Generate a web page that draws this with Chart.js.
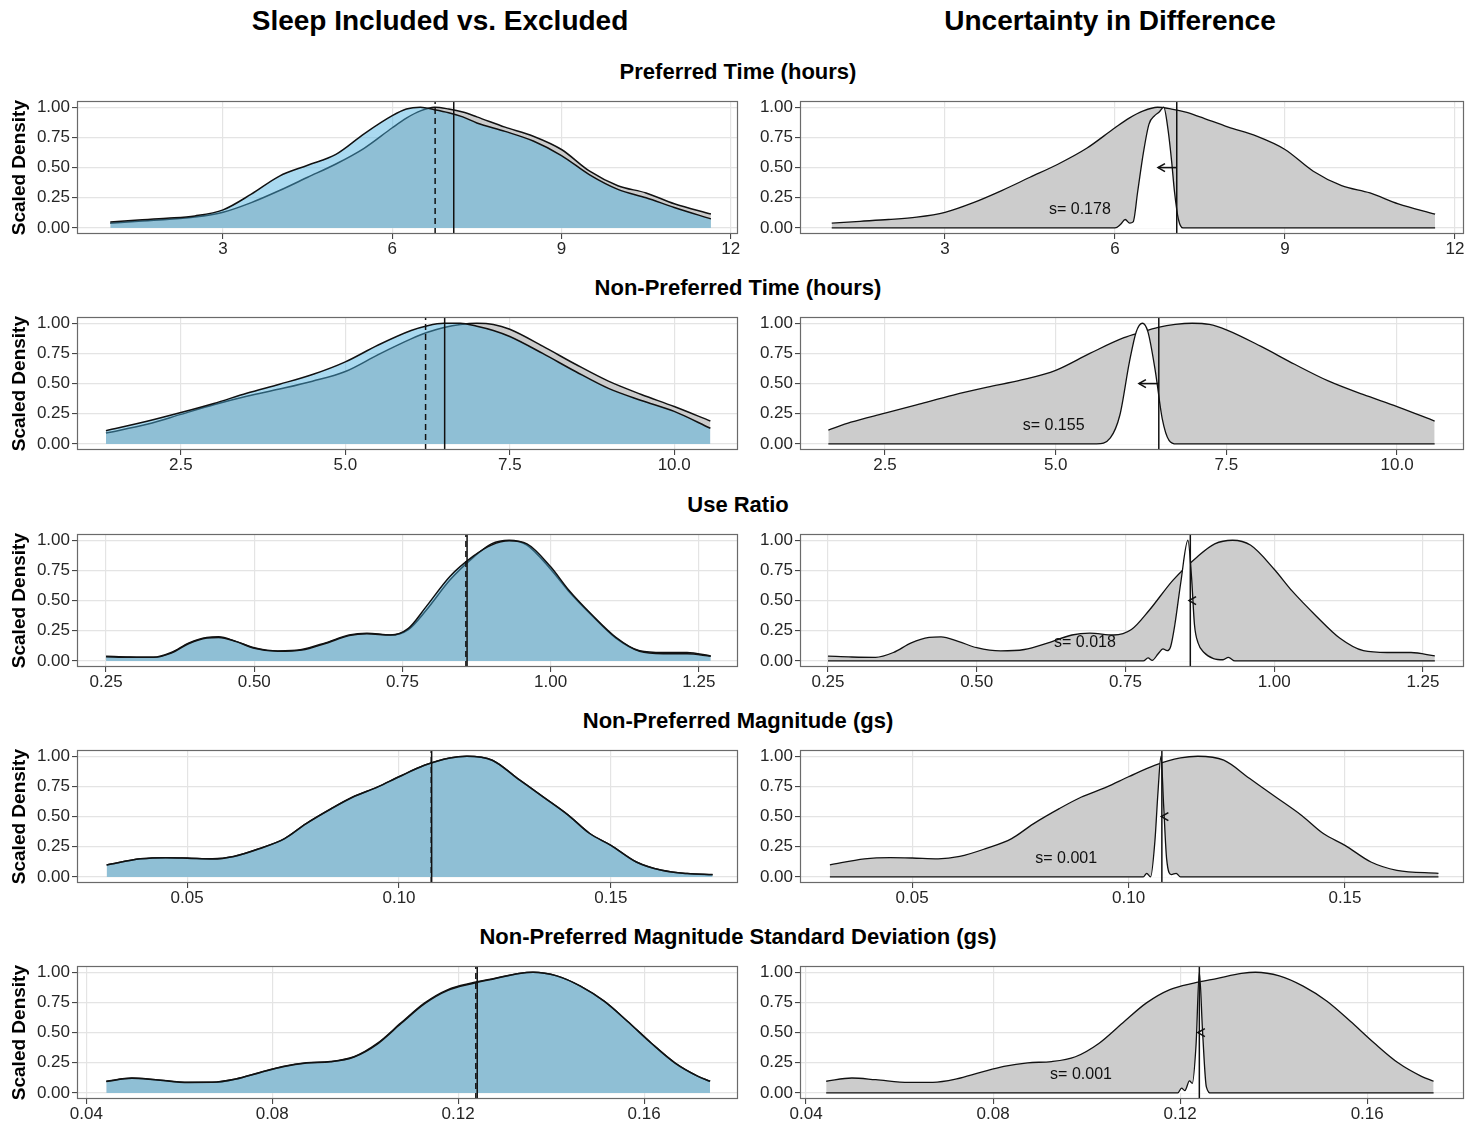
<!DOCTYPE html>
<html>
<head>
<meta charset="utf-8">
<script src="https://cdn.jsdelivr.net/npm/chart.js@4.4.0/dist/chart.umd.min.js"></script>
<style>
  body { margin: 0; background: #fff; width: 1476px; height: 1122px; position: relative; overflow: hidden;
         font-family: "Liberation Sans", Arial, sans-serif; }
  .title { position: absolute; transform: translate(-50%, -50%); font-weight: bold; white-space: nowrap; color: #000; }
  .col { font-size: 28px; }
  .row { font-size: 22px; }
  canvas { position: absolute; }
</style>
</head>
<body>
<script>
// Column and row titles
const colTitles = ['Sleep Included vs. Excluded', 'Uncertainty in Difference'];
const rowTitles = ['Preferred Time (hours)', 'Non-Preferred Time (hours)', 'Use Ratio',
                   'Non-Preferred Magnitude (gs)', 'Non-Preferred Magnitude Standard Deviation (gs)'];

// y axis ticks (scaled density)
const yTicks = [0, 0.25, 0.5, 0.75, 1];

// Row 1: Preferred Time
const ptX     = [1.0, 1.5, 2.0, 2.5, 3.0, 3.5, 4.0, 4.5, 5.0, 5.5, 6.0, 6.25, 6.5, 6.75, 7.0, 7.25, 7.5, 8.0, 8.5, 9.0, 9.5, 10.0, 10.5, 11.0, 11.65];
const ptIncl  = [0.04, 0.055, 0.07, 0.09, 0.13, 0.21, 0.31, 0.42, 0.53, 0.66, 0.83, 0.91, 0.97, 1.0, 0.985, 0.96, 0.92, 0.835, 0.76, 0.65, 0.47, 0.35, 0.29, 0.20, 0.115];
const ptExcl  = [0.05, 0.065, 0.08, 0.10, 0.15, 0.28, 0.43, 0.52, 0.61, 0.78, 0.93, 0.985, 1.0, 0.98, 0.955, 0.92, 0.87, 0.80, 0.72, 0.60, 0.44, 0.32, 0.25, 0.17, 0.075];
const ptDiffX = [1.0, 6.0, 6.1, 6.18, 6.26, 6.32, 6.4, 6.5, 6.6, 6.7, 6.78, 6.86, 6.94, 7.0, 7.05, 7.12, 7.2, 11.65];
const ptDiffY = [0, 0, 0.03, 0.07, 0.04, 0.05, 0.3, 0.62, 0.86, 0.93, 0.96, 1.0, 0.8, 0.55, 0.3, 0.07, 0, 0];
const ptTicks = [3, 6, 9, 12];

// Row 2: Non-Preferred Time
const nptX     = [1.36, 2.0, 2.5, 3.0, 3.5, 4.0, 4.5, 5.0, 5.5, 6.0, 6.25, 6.5, 6.75, 7.0, 7.25, 7.5, 8.0, 8.5, 9.0, 9.5, 10.0, 10.55];
const nptIncl  = [0.09, 0.165, 0.245, 0.325, 0.395, 0.455, 0.52, 0.60, 0.74, 0.87, 0.925, 0.965, 0.99, 1.0, 0.99, 0.95, 0.81, 0.66, 0.52, 0.41, 0.31, 0.19];
const nptExcl  = [0.11, 0.19, 0.26, 0.335, 0.42, 0.495, 0.575, 0.68, 0.82, 0.94, 0.98, 1.0, 1.0, 0.975, 0.94, 0.89, 0.75, 0.60, 0.46, 0.36, 0.27, 0.13];
const nptRX    = [1.67, 2.0, 2.5, 3.0, 3.5, 4.0, 4.5, 5.0, 5.5, 6.0, 6.25, 6.5, 6.75, 7.0, 7.25, 7.5, 8.0, 8.5, 9.0, 9.5, 10.0, 10.55];
const nptRIncl = [0.115, 0.18, 0.255, 0.33, 0.405, 0.47, 0.53, 0.61, 0.75, 0.88, 0.925, 0.965, 0.99, 1.0, 0.99, 0.945, 0.81, 0.66, 0.52, 0.41, 0.31, 0.19];
const nptDiffX = [1.67, 5.6, 5.8, 5.94, 6.08, 6.18, 6.27, 6.35, 6.46, 6.56, 6.66, 6.77, 10.55];
const nptDiffY = [0, 0, 0.05, 0.24, 0.68, 0.93, 1.0, 0.93, 0.6, 0.21, 0.03, 0, 0];
const nptTicks = [2.5, 5.0, 7.5, 10.0];

// Row 3: Use Ratio
const urX     = [0.25, 0.29, 0.33, 0.36, 0.39, 0.42, 0.44, 0.47, 0.50, 0.54, 0.58, 0.62, 0.66, 0.69, 0.73, 0.76, 0.79, 0.83, 0.87, 0.90, 0.93, 0.96, 1.0, 1.03, 1.07, 1.11, 1.15, 1.19, 1.23, 1.27];
const urIncl  = [0.04, 0.033, 0.03, 0.07, 0.15, 0.195, 0.20, 0.16, 0.11, 0.083, 0.095, 0.15, 0.215, 0.23, 0.215, 0.26, 0.42, 0.67, 0.86, 0.97, 1.0, 0.96, 0.76, 0.58, 0.375, 0.19, 0.085, 0.07, 0.07, 0.042];
const urExcl  = [0.035, 0.03, 0.03, 0.065, 0.145, 0.19, 0.195, 0.16, 0.105, 0.08, 0.09, 0.145, 0.21, 0.225, 0.215, 0.27, 0.45, 0.70, 0.87, 0.96, 0.995, 0.97, 0.78, 0.59, 0.38, 0.195, 0.08, 0.06, 0.06, 0.04];
const urDiffX = [0.25, 0.78, 0.788, 0.795, 0.805, 0.813, 0.82, 0.826, 0.833, 0.843, 0.855, 0.861, 0.866, 0.872, 0.882, 0.898, 0.914, 0.923, 0.934, 1.27];
const urDiffY = [0, 0, 0.025, 0.005, 0.06, 0.1, 0.085, 0.12, 0.3, 0.65, 1.0, 0.7, 0.3, 0.15, 0.07, 0.02, 0.01, 0.03, 0, 0];
const urTicks = [0.25, 0.5, 0.75, 1.0, 1.25];

// Row 4: Non-Preferred Magnitude
const npmX     = [0.031, 0.039, 0.045, 0.05, 0.056, 0.061, 0.067, 0.073, 0.078, 0.084, 0.089, 0.095, 0.1, 0.106, 0.112, 0.116, 0.122, 0.128, 0.134, 0.14, 0.145, 0.15, 0.156, 0.162, 0.168, 0.174];
const npmIncl  = [0.10, 0.15, 0.16, 0.157, 0.15, 0.17, 0.235, 0.318, 0.44, 0.566, 0.66, 0.746, 0.83, 0.925, 0.986, 1.0, 0.967, 0.815, 0.663, 0.51, 0.36, 0.262, 0.124, 0.055, 0.028, 0.019];
const npmExcl  = [0.10, 0.15, 0.16, 0.156, 0.149, 0.17, 0.234, 0.318, 0.44, 0.565, 0.66, 0.746, 0.83, 0.925, 0.986, 1.0, 0.967, 0.815, 0.663, 0.51, 0.36, 0.262, 0.124, 0.055, 0.028, 0.02];
const npmRX    = [0.031, 0.039, 0.045, 0.05, 0.056, 0.061, 0.067, 0.073, 0.078, 0.084, 0.089, 0.095, 0.1, 0.106, 0.112, 0.116, 0.122, 0.128, 0.134, 0.14, 0.145, 0.15, 0.156, 0.162, 0.1716];
const npmRIncl = [0.10, 0.15, 0.16, 0.157, 0.15, 0.17, 0.235, 0.318, 0.44, 0.566, 0.66, 0.746, 0.83, 0.925, 0.986, 1.0, 0.967, 0.815, 0.663, 0.51, 0.36, 0.262, 0.124, 0.055, 0.03];
const npmDiffX = [0.031, 0.1034, 0.1042, 0.1051, 0.1061, 0.1068, 0.1075, 0.1081, 0.1088, 0.1099, 0.111, 0.112, 0.1716];
const npmDiffY = [0, 0, 0.03, 0, 0.3, 0.7, 1.0, 0.6, 0.15, 0.02, 0.03, 0, 0];
const npmTicks = [0.05, 0.10, 0.15];

// Row 5: Non-Preferred Magnitude SD
const npsdX     = [0.0443, 0.0498, 0.0549, 0.062, 0.0671, 0.0722, 0.0773, 0.0823, 0.0874, 0.0925, 0.0976, 0.1026, 0.1077, 0.1128, 0.1178, 0.1229, 0.128, 0.1331, 0.1361, 0.1412, 0.1463, 0.1514, 0.1564, 0.1615, 0.1666, 0.1716, 0.1742];
const npsdIncl  = [0.097, 0.124, 0.11, 0.088, 0.088, 0.116, 0.17, 0.22, 0.25, 0.26, 0.30, 0.41, 0.58, 0.746, 0.856, 0.91, 0.95, 0.99, 1.0, 0.97, 0.885, 0.76, 0.594, 0.414, 0.25, 0.138, 0.097];
const npsdExcl  = [0.095, 0.122, 0.109, 0.087, 0.088, 0.115, 0.168, 0.218, 0.248, 0.258, 0.298, 0.405, 0.575, 0.74, 0.85, 0.905, 0.948, 0.99, 1.0, 0.97, 0.885, 0.76, 0.594, 0.414, 0.25, 0.138, 0.097];
const npsdDiffX = [0.0443, 0.1195, 0.1203, 0.121, 0.122, 0.1226, 0.1234, 0.1241, 0.1248, 0.1256, 0.1266, 0.1742];
const npsdDiffY = [0, 0, 0.04, 0.02, 0.1, 0.08, 0.4, 1.0, 0.5, 0.05, 0, 0];
const npsdTicks = [0.04, 0.08, 0.12, 0.16];

// Medians: dashed = sleep excluded, solid = sleep included
const dashedX = [6.76, 6.22, 0.857, 0.1076, 0.1238];
const solidX  = [7.09, 6.51, 0.859, 0.1077, 0.1241];

// Uncertainty notes
const sLabels = ['s= 0.178', 's= 0.155', 's= 0.018', 's= 0.001', 's= 0.001'];
const noteX   = [5.38, 4.97, 0.682, 0.0856, 0.0988];

// Axis ranges (left panel, right panel)
const rangeL = [[0.41, 12.13], [0.92, 10.97], [0.201, 1.316], [0.024, 0.180], [0.038, 0.1802]];
const rangeR = [[0.44, 12.16], [1.255, 10.98], [0.203, 1.319], [0.0241, 0.1775], [0.0387, 0.1807]];
const tickDigits = [0, 1, 2, 2, 2];

const rows = [
    { xL: ptX, incl: ptIncl, excl: ptExcl, xR: ptX, inclR: ptIncl, dX: ptDiffX, dY: ptDiffY, ticks: ptTicks },
    { xL: nptX, incl: nptIncl, excl: nptExcl, xR: nptRX, inclR: nptRIncl, dX: nptDiffX, dY: nptDiffY, ticks: nptTicks },
    { xL: urX, incl: urIncl, excl: urExcl, xR: urX, inclR: urIncl, dX: urDiffX, dY: urDiffY, ticks: urTicks },
    { xL: npmX, incl: npmIncl, excl: npmExcl, xR: npmRX, inclR: npmRIncl, dX: npmDiffX, dY: npmDiffY, ticks: npmTicks },
    { xL: npsdX, incl: npsdIncl, excl: npsdExcl, xR: npsdX, inclR: npsdIncl, dX: npsdDiffX, dY: npsdDiffY, ticks: npsdTicks }
];

// Layout
const plotTop = [101, 317, 534, 750, 966];
const plotH = 133;
const padTop = 12;   // larger than half a tick label, so it wins in the layout
const xAxisH = 30;
const FONT = "'Liberation Sans', Arial, sans-serif";
const TEXT = '#262626';
Chart.defaults.font.family = FONT;

function addTitle(text, cls, x, y) {
    const d = document.createElement('div');
    d.className = 'title ' + cls;
    d.textContent = text;
    d.style.left = x + 'px';
    d.style.top = y + 'px';
    document.body.appendChild(d);
}

addTitle(colTitles[0], 'col', 440, 21);
addTitle(colTitles[1], 'col', 1110, 21);
rowTitles.forEach((t, i) => addTitle(t, 'row', 738, plotTop[i] - 29));

const toPts = (xs, ys) => xs.map((x, i) => ({ x: x, y: ys[i] }));
const vline = v => [{ x: v, y: -0.05 }, { x: v, y: 1.05 }];

// Panel border, arrow and note text
const panelDecor = {
    id: 'panelDecor',
    afterDatasetsDraw(chart, args, opts) {
        const { ctx, chartArea: a } = chart;
        const xs = chart.scales.x, ys = chart.scales.y;
        ctx.save();
        if (opts.arrow) {
            const x0 = xs.getPixelForValue(opts.arrow.from);
            const x1 = xs.getPixelForValue(opts.arrow.to);
            const yy = ys.getPixelForValue(0.5);
            const dir = x1 < x0 ? -1 : 1;
            const L = 8, ang = Math.PI / 6;
            ctx.strokeStyle = '#111';
            ctx.lineWidth = 1.6;
            ctx.beginPath();
            ctx.moveTo(x0, yy);
            ctx.lineTo(x1, yy);
            ctx.stroke();
            ctx.beginPath();
            ctx.moveTo(x1 - dir * L * Math.cos(ang), yy - L * Math.sin(ang));
            ctx.lineTo(x1, yy);
            ctx.lineTo(x1 - dir * L * Math.cos(ang), yy + L * Math.sin(ang));
            ctx.stroke();
        }
        if (opts.note) {
            ctx.fillStyle = '#111';
            ctx.font = '16px ' + FONT;
            ctx.textAlign = 'center';
            ctx.textBaseline = 'middle';
            ctx.fillText(opts.note.text, xs.getPixelForValue(opts.note.x), ys.getPixelForValue(opts.note.y));
        }
        ctx.strokeStyle = '#6a6a6a';
        ctx.lineWidth = 1.2;
        ctx.strokeRect(Math.round(a.left) + 0.5, Math.round(a.top) + 0.5, Math.round(a.width) - 1, Math.round(a.height) - 1);
        ctx.restore();
    }
};

function makeScales(range, xt, digits, isLeft) {
    const grid = { color: '#e4e4e4', lineWidth: 1.2, tickLength: 5, tickColor: '#333', tickWidth: 1 };
    return {
        x: {
            type: 'linear', min: range[0], max: range[1],
            afterBuildTicks: s => { s.ticks = xt.map(v => ({ value: v })); },
            afterFit: s => { s.height = xAxisH; },
            ticks: { callback: v => v.toFixed(digits), color: TEXT, font: { size: 17 }, padding: 0, maxRotation: 0, autoSkip: false },
            grid: grid,
            border: { display: false }
        },
        y: {
            type: 'linear', min: -0.05, max: 1.05,
            afterBuildTicks: s => { s.ticks = yTicks.map(v => ({ value: v })); },
            afterFit: s => { s.width = isLeft ? 77 : 50; },
            ticks: { callback: v => v.toFixed(2), color: TEXT, font: { size: 17 }, padding: 2 },
            grid: grid,
            border: { display: false },
            title: {
                display: isLeft, text: 'Scaled Density', color: '#000',
                font: { size: 19, weight: 'bold' }, padding: { top: 8, bottom: 0 }
            }
        }
    };
}

function makeCanvas(left, top, width) {
    const c = document.createElement('canvas');
    c.width = width;
    c.height = padTop + plotH + xAxisH;
    c.style.left = left + 'px';
    c.style.top = top + 'px';
    c.style.width = width + 'px';
    c.style.height = c.height + 'px';
    document.body.appendChild(c);
    return c;
}

const lineBase = { pointRadius: 0, borderColor: '#111', cubicInterpolationMode: 'monotone' };

rows.forEach((r, i) => {
    const top = plotTop[i] - padTop;

    // Left: sleep included (grey) vs excluded (blue)
    new Chart(makeCanvas(0, top, 748), {
        type: 'line',
        data: {
            datasets: [
                { ...lineBase, label: 'Included', data: toPts(r.xL, r.incl), fill: 'origin', backgroundColor: '#cccccc', borderWidth: 1.5, order: 4 },
                { ...lineBase, label: 'Excluded', data: toPts(r.xL, r.excl), fill: 'origin', backgroundColor: 'rgba(74,176,223,0.47)', borderWidth: 1.5, order: 3 },
                { label: 'Excluded median', data: vline(dashedX[i]), pointRadius: 0, borderColor: '#111', borderWidth: 1.5, borderDash: [6, 4], fill: false, order: 2 },
                { label: 'Included median', data: vline(solidX[i]), pointRadius: 0, borderColor: '#111', borderWidth: 1.5, fill: false, order: 1 }
            ]
        },
        options: {
            responsive: false, animation: false, events: [],
            layout: { padding: { top: padTop, right: 10, left: 0, bottom: 0 } },
            scales: makeScales(rangeL[i], r.ticks, tickDigits[i], true),
            plugins: { legend: { display: false }, tooltip: { enabled: false }, panelDecor: {} }
        },
        plugins: [panelDecor]
    });

    // Right: uncertainty in difference
    new Chart(makeCanvas(750, top, 726), {
        type: 'line',
        data: {
            datasets: [
                { ...lineBase, label: 'Included', data: toPts(r.xR, r.inclR), fill: 'origin', backgroundColor: '#cccccc', borderWidth: 1.3, order: 3 },
                { ...lineBase, label: 'Difference', data: toPts(r.dX, r.dY), fill: 'origin', backgroundColor: '#ffffff', borderWidth: 1.3, order: 2 },
                { label: 'Included median', data: vline(solidX[i]), pointRadius: 0, borderColor: '#111', borderWidth: 1.5, fill: false, order: 1 }
            ]
        },
        options: {
            responsive: false, animation: false, events: [],
            layout: { padding: { top: padTop, right: 12, left: 0, bottom: 0 } },
            scales: makeScales(rangeR[i], r.ticks, tickDigits[i], false),
            plugins: {
                legend: { display: false }, tooltip: { enabled: false },
                panelDecor: {
                    arrow: { from: solidX[i], to: dashedX[i] },
                    note: { text: sLabels[i], x: noteX[i], y: 0.15 }
                }
            }
        },
        plugins: [panelDecor]
    });
});
</script>
</body>
</html>
